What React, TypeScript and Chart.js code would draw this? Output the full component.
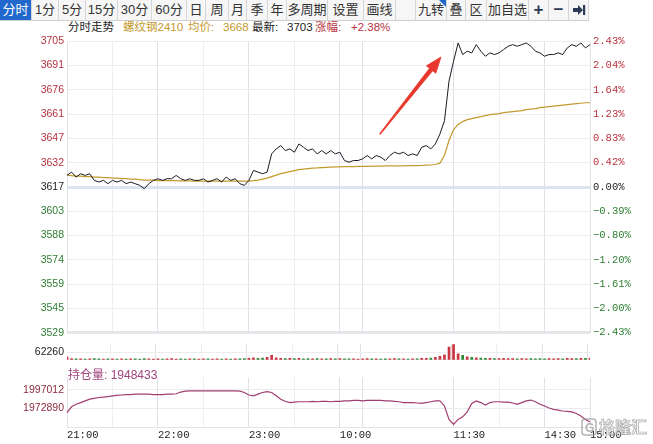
import React, { useEffect, useRef } from 'react';
import { Chart, registerables } from 'chart.js';

Chart.register(...registerables);

// ---------- time axis ----------
const SESSIONS: [string, string][] = [
  ['21:00', '23:00'],
  ['09:00', '10:15'],
  ['10:30', '11:30'],
  ['13:30', '15:00'],
];
const STEP_MIN = 3;
function buildTimeLabels(): string[] {
  const toMin = (s: string) => {
    const [h, m] = s.split(':').map(Number);
    return h * 60 + m;
  };
  const fmt = (t: number) =>
    `${String(Math.floor(t / 60) % 24).padStart(2, '0')}:${String(t % 60).padStart(2, '0')}`;
  const out = [SESSIONS[0][0]];
  for (const [a, b] of SESSIONS) {
    for (let t = toMin(a) + STEP_MIN; t <= toMin(b); t += STEP_MIN) out.push(fmt(t));
  }
  return out;
}
const TIME_LABELS = buildTimeLabels();
const SHOWN_TIME_LABELS = ['21:00', '22:00', '23:00', '10:00', '11:30', '14:30', '15:00'];
const SOLID_GRID_TIMES = ['21:00', '22:00', '23:00', '10:00', '10:15', '11:30', '14:30', '15:00'];
const DOTTED_GRID_TIMES = ['21:30', '22:30', '09:30', '14:00'];

// ---------- data ----------
const PRICE = [
  3624, 3626, 3623, 3625, 3624, 3625, 3621, 3620, 3621, 3619,
  3621, 3620, 3621, 3619, 3620, 3619, 3618, 3616, 3619, 3621,
  3622, 3621, 3622, 3622, 3624, 3622, 3621, 3622, 3621, 3621,
  3622, 3620, 3621, 3622, 3620, 3623, 3621, 3622, 3619, 3618,
  3621, 3627, 3626, 3625, 3626, 3637, 3640, 3642, 3639, 3640,
  3638, 3643, 3641, 3639, 3640, 3637, 3639, 3637, 3639, 3637,
  3638, 3633, 3632, 3633, 3633, 3634, 3636, 3634, 3636, 3635,
  3633, 3636, 3638, 3637, 3638, 3636, 3637, 3636, 3641, 3642,
  3640, 3643, 3649, 3657, 3681, 3693, 3704, 3697, 3699, 3698,
  3703, 3699, 3696, 3698, 3697, 3698, 3700, 3702, 3703, 3702,
  3703, 3704, 3702, 3699, 3698, 3696, 3697, 3697, 3698, 3697,
  3701, 3703, 3702, 3704, 3701, 3703,
];

const AVG_PRICE = [
  3624.2, 3623.9, 3623.6, 3623.6, 3623.3, 3623.3, 3623.0, 3623.0, 3622.7, 3622.7,
  3622.4, 3622.4, 3622.1, 3622.1, 3621.8, 3621.8, 3621.5, 3621.2, 3621.2, 3621.2,
  3620.9, 3620.9, 3620.9, 3620.8, 3620.8, 3620.7, 3620.7, 3620.7, 3620.6, 3620.6,
  3620.6, 3620.6, 3620.6, 3620.6, 3620.6, 3620.6, 3620.6, 3620.6, 3620.6, 3620.6,
  3620.6, 3620.8, 3621.2, 3621.8, 3622.4, 3623.3, 3624.2, 3625.1, 3625.7, 3626.3,
  3626.9, 3627.5, 3627.8, 3628.1, 3628.4, 3628.5, 3628.7, 3628.9, 3629.0, 3629.1,
  3629.2, 3629.3, 3629.3, 3629.3, 3629.4, 3629.4, 3629.4, 3629.6, 3629.6, 3629.6,
  3629.7, 3629.7, 3629.7, 3629.8, 3629.8, 3629.9, 3629.9, 3629.9, 3630.0, 3630.2,
  3630.3, 3630.6, 3631.4, 3636.2, 3645.1, 3651.7, 3654.7, 3656.5, 3657.7, 3658.3,
  3658.9, 3659.5, 3660.1, 3660.7, 3661.0, 3661.3, 3661.9, 3662.2, 3662.5, 3662.8,
  3663.1, 3663.7, 3664.0, 3664.3, 3664.9, 3665.2, 3665.5, 3665.8, 3666.1, 3666.4,
  3666.7, 3667.0, 3667.3, 3667.6, 3667.9, 3667.9,
];

const VOLUME = [
  23346, 9728, 7782, 7782, 5837, 7782, 9728, 7782, 5837, 7782,
  7782, 5837, 7782, 5837, 7782, 7782, 5837, 9728, 7782, 5837,
  7782, 5837, 7782, 9728, 5837, 7782, 5837, 7782, 7782, 5837,
  7782, 7782, 5837, 7782, 5837, 7782, 5837, 7782, 7782, 9728,
  11673, 15564, 11673, 13619, 19455, 35019, 15564, 11673, 9728, 11673,
  9728, 11673, 7782, 9728, 7782, 9728, 7782, 7782, 9728, 7782,
  9728, 7782, 7782, 7782, 5837, 7782, 9728, 7782, 7782, 5837,
  7782, 7782, 9728, 7782, 7782, 5837, 7782, 7782, 11673, 11673,
  13619, 19455, 27237, 38910, 101166, 124512, 46692, 35019, 23346, 19455,
  15564, 13619, 11673, 11673, 9728, 9728, 11673, 9728, 9728, 7782,
  9728, 7782, 9728, 7782, 9728, 7782, 9728, 7782, 9728, 7782,
  11673, 9728, 9728, 11673, 11673, 13619,
];

const OPEN_INTEREST = [
  1967408, 1975083, 1978372, 1980565, 1982758, 1984951, 1986047, 1987144, 1987692, 1988240,
  1989337, 1989885, 1990433, 1990981, 1990981, 1991530, 1991530, 1991530, 1991530, 1990981,
  1990981, 1990981, 1991530, 1991530, 1992078, 1994271, 1995368, 1995916, 1995916, 1995916,
  1995916, 1995916, 1995916, 1995916, 1995916, 1995916, 1995916, 1995916, 1995368, 1993723,
  1990433, 1989337, 1991530, 1993723, 1994819, 1993723, 1989337, 1984951, 1982210, 1980565,
  1981113, 1981662, 1981662, 1981662, 1982210, 1981662, 1982210, 1982210, 1981662, 1982210,
  1982210, 1982758, 1982758, 1983306, 1983306, 1982758, 1983306, 1983306, 1983306, 1983306,
  1982758, 1982758, 1982210, 1981662, 1980565, 1980565, 1980565, 1980017, 1979469, 1980565,
  1981662, 1982758, 1982758, 1976179, 1958636, 1952057, 1958636, 1961926, 1968504, 1979469,
  1982758, 1980565, 1977276, 1980565, 1981662, 1981662, 1981113, 1981113, 1980017, 1978372,
  1980565, 1982758, 1983855, 1981662, 1978372, 1976179, 1973438, 1971794, 1970697, 1969601,
  1969053, 1968504, 1966311, 1963022, 1958636, 1955347,
];

// ---------- axes ----------
const PREV_CLOSE = 3617;
const PRICE_MAX = 3705;
const PRICE_MIN = 3529;
const PRICE_TICK_LABELS = ['3705', '3691', '3676', '3661', '3647', '3632', '3617', '3603', '3588', '3574', '3559', '3545', '3529'];
const PCT_TICK_LABELS = ['2.43%', '2.04%', '1.64%', '1.23%', '0.83%', '0.42%', '0.00%', '−0.39%', '−0.80%', '−1.20%', '−1.61%', '−2.00%', '−2.43%'];
const VOL_TICK = 62260;
const VOL_MAX = 124520;
const OI_TICKS = [1972890, 1997012];
const OI_MIN = 1948768;
const OI_MAX = 2013459;

// ---------- styles ----------
const RED = '#b8323e';
const GREEN = '#2e7d32';
const GOLD = '#c49a2e';
const LEFT_W = 67;
const RIGHT_W = 63;
const SANS = '"Liberation Sans", Arial, sans-serif';
const MONO = '"Liberation Mono", "DejaVu Sans Mono", monospace';
const CJK = 'Arial, "Liberation Sans", "Noto Sans CJK SC", sans-serif';

const xGridColor = (ctx: any) => {
  const lbl = TIME_LABELS[ctx.index];
  if (SOLID_GRID_TIMES.includes(lbl)) return '#e0e0e6';
  if (DOTTED_GRID_TIMES.includes(lbl)) return '#eeeef2';
  return 'rgba(0,0,0,0)';
};

const hiddenX = () => ({
  type: 'category' as const,
  offset: false,
  ticks: { display: false, autoSkip: false },
  grid: { drawTicks: false, color: xGridColor, lineWidth: 1 },
  border: { display: false },
  afterFit: (s: any) => {
    s.height = 0;
  },
});

const evenTicks = (min: number, max: number, n: number) => (s: any) => {
  s.ticks = Array.from({ length: n }, (_, i) => ({ value: min + (i * (max - min)) / (n - 1) }));
};
const near = (a: number, b: number) => Math.abs(a - b) < 0.01;
const signColor = (ctx: any) => {
  const v = ctx.tick ? ctx.tick.value : PREV_CLOSE;
  if (near(v, PREV_CLOSE)) return '#222';
  return v > PREV_CLOSE ? RED : GREEN;
};

function priceConfig(): any {
  const n = PRICE_TICK_LABELS.length;
  return {
    type: 'line',
    data: {
      labels: TIME_LABELS,
      datasets: [
        { data: PRICE, borderColor: '#1c1c24', borderWidth: 1, pointRadius: 0, tension: 0, yAxisID: 'y', order: 1 },
        { data: AVG_PRICE, borderColor: GOLD, borderWidth: 1.2, pointRadius: 0, tension: 0, yAxisID: 'y', order: 2 },
      ],
    },
    options: {
      responsive: false,
      animation: false,
      events: [],
      layout: { padding: { top: 8, bottom: 7, left: 0, right: 0 } },
      plugins: { legend: { display: false }, tooltip: { enabled: false } },
      scales: {
        x: hiddenX(),
        y: {
          position: 'left',
          min: PRICE_MIN,
          max: PRICE_MAX,
          afterBuildTicks: evenTicks(PRICE_MIN, PRICE_MAX, n),
          afterFit: (s: any) => {
            s.width = LEFT_W;
          },
          ticks: {
            callback: (_v: any, i: number) => PRICE_TICK_LABELS[n - 1 - i],
            color: signColor,
            font: { family: SANS, size: 10.5 },
            padding: 3,
          },
          grid: {
            drawTicks: false,
            color: (ctx: any) => {
              const v = ctx.tick ? ctx.tick.value : 0;
              if (near(v, PREV_CLOSE)) return '#dde4f0';
              if (near(v, PRICE_MIN)) return '#e6e6ea';
              return '#ececf0';
            },
            lineWidth: (ctx: any) => {
              const v = ctx.tick ? ctx.tick.value : 0;
              return near(v, PREV_CLOSE) || near(v, PRICE_MIN) ? 3 : 1;
            },
          },
          border: { display: false },
        },
        yr: {
          position: 'right',
          min: PRICE_MIN,
          max: PRICE_MAX,
          afterBuildTicks: evenTicks(PRICE_MIN, PRICE_MAX, n),
          afterFit: (s: any) => {
            s.width = RIGHT_W;
          },
          ticks: {
            callback: (_v: any, i: number) => PCT_TICK_LABELS[n - 1 - i],
            color: signColor,
            font: { family: MONO, size: 10.5 },
            padding: 3,
          },
          grid: { display: false, drawTicks: false },
          border: { display: false },
        },
      },
    },
  };
}

function volumeConfig(): any {
  const colors = VOLUME.map((_, i) => (i === 0 || PRICE[i] >= PRICE[i - 1] ? '#cc3440' : '#2f8a3a'));
  return {
    type: 'bar',
    data: {
      labels: TIME_LABELS,
      datasets: [{ data: VOLUME, backgroundColor: colors, barThickness: 2, borderWidth: 0 }],
    },
    options: {
      responsive: false,
      animation: false,
      events: [],
      layout: { padding: { top: 1, bottom: 1, left: 0, right: RIGHT_W } },
      plugins: { legend: { display: false }, tooltip: { enabled: false } },
      scales: {
        x: { ...hiddenX(), border: { display: true, color: '#e4e4e8' } },
        y: {
          position: 'left',
          min: 0,
          max: VOL_MAX,
          afterBuildTicks: (s: any) => {
            s.ticks = [{ value: VOL_TICK }];
          },
          afterFit: (s: any) => {
            s.width = LEFT_W;
          },
          ticks: { callback: () => String(VOL_TICK), color: '#222', font: { family: SANS, size: 10.5 }, padding: 3 },
          grid: { drawTicks: false, color: '#ececf0' },
          border: { display: false },
        },
      },
    },
  };
}

function oiConfig(): any {
  return {
    type: 'line',
    data: {
      labels: TIME_LABELS,
      datasets: [{ data: OPEN_INTEREST, borderColor: '#a03e70', borderWidth: 1.2, pointRadius: 0, tension: 0 }],
    },
    options: {
      responsive: false,
      animation: false,
      events: [],
      layout: { padding: { top: 0, bottom: 0, left: 0, right: RIGHT_W } },
      plugins: { legend: { display: false }, tooltip: { enabled: false } },
      scales: {
        x: {
          type: 'category',
          offset: false,
          ticks: {
            autoSkip: false,
            maxRotation: 0,
            minRotation: 0,
            align: 'start',
            padding: 2,
            color: '#222',
            font: { family: MONO, size: 10.5 },
            callback: (_v: any, i: number) => (SHOWN_TIME_LABELS.includes(TIME_LABELS[i]) ? TIME_LABELS[i] : ''),
          },
          grid: { drawTicks: false, color: xGridColor, lineWidth: 1 },
          border: { display: true, color: '#e4e4e8' },
          afterFit: (s: any) => {
            s.height = 17;
          },
        },
        y: {
          position: 'left',
          min: OI_MIN,
          max: OI_MAX,
          afterBuildTicks: (s: any) => {
            s.ticks = OI_TICKS.map((v) => ({ value: v }));
          },
          afterFit: (s: any) => {
            s.width = LEFT_W;
          },
          ticks: {
            callback: (v: any) => String(v),
            color: '#8e2c40',
            font: { family: SANS, size: 10.5 },
            padding: 3,
          },
          grid: { drawTicks: false, color: '#ececf0' },
          border: { display: false },
        },
      },
    },
  };
}

function ChartCanvas({ make, top, height }: { make: () => any; top: number; height: number }) {
  const ref = useRef<HTMLCanvasElement | null>(null);
  useEffect(() => {
    const chart = new Chart(ref.current as HTMLCanvasElement, make());
    return () => chart.destroy();
  }, []);
  return (
    <canvas
      ref={ref}
      width={653}
      height={height}
      style={{ position: 'absolute', left: 0, top, width: 653, height }}
    />
  );
}

const TOOLBAR_ITEMS: { t: string; w: number; active?: boolean; corner?: boolean; icon?: boolean }[] = [
  { t: '分时', w: 32, active: true },
  { t: '1分', w: 27 },
  { t: '5分', w: 27 },
  { t: '15分', w: 32 },
  { t: '30分', w: 34 },
  { t: '60分', w: 35 },
  { t: '日', w: 19 },
  { t: '周', w: 23 },
  { t: '月', w: 18 },
  { t: '季', w: 21 },
  { t: '年', w: 19 },
  { t: '多周期', w: 41 },
  { t: '设置', w: 36 },
  { t: '画线', w: 32 },
  { t: '', w: 20 },
  { t: '九转', w: 31, corner: true },
  { t: '叠', w: 19 },
  { t: '区', w: 21 },
  { t: '加自选', w: 42 },
  { t: '+', w: 20, icon: true },
  { t: '−', w: 20, icon: true },
  { t: 'END', w: 20, icon: true },
];

function Toolbar() {
  return (
    <div style={{ position: 'absolute', left: 0, top: 0, height: 21, display: 'flex' }}>
      {TOOLBAR_ITEMS.map((it, i) => (
        <div
          key={i}
          style={{
            position: 'relative',
            boxSizing: 'border-box',
            width: it.w,
            height: 21,
            lineHeight: '20px',
            textAlign: 'center',
            fontFamily: CJK,
            fontSize: it.icon ? 17 : 13,
            fontWeight: it.icon ? 700 : 400,
            color: it.active ? '#fff' : it.icon ? '#2c3a55' : '#333',
            background: it.active ? '#2168cc' : '#f6f6f6',
            borderRight: '1px solid #d6d6d6',
            borderBottom: '1px solid #cfcfcf',
          }}
        >
          {it.t === 'END' ? (
            <svg width="14" height="12" viewBox="0 0 14 12" style={{ marginTop: 4 }}>
              <polygon points="1,4 6,4 6,1 11,6 6,11 6,8 1,8" fill="#2c3a55" />
              <rect x="11" y="1" width="2.2" height="10" fill="#2c3a55" />
            </svg>
          ) : (
            it.t
          )}
          {it.corner && (
            <div
              style={{
                position: 'absolute',
                right: 0,
                top: 0,
                width: 0,
                height: 0,
                borderTop: '7px solid #2168cc',
                borderLeft: '7px solid transparent',
              }}
            />
          )}
        </div>
      ))}
    </div>
  );
}

const headerText = (t: string, left: number, color: string) => (
  <span
    style={{
      position: 'absolute',
      left,
      top: 19,
      fontFamily: CJK,
      fontSize: 11.5,
      lineHeight: '16px',
      color,
      whiteSpace: 'nowrap',
    }}
  >
    {t}
  </span>
);

export default function App() {
  return (
    <div
      style={{
        position: 'fixed',
        left: 0,
        top: 0,
        width: 653,
        height: 444,
        background: '#fff',
        overflow: 'hidden',
      }}
    >
      <Toolbar />
      {headerText('分时走势', 68, '#222')}
      {headerText('螺纹钢2410', 123, GOLD)}
      {headerText('均价:', 188, GOLD)}
      {headerText('3668', 223, GOLD)}
      {headerText('最新:', 252, '#222')}
      {headerText('3703', 287, '#222')}
      {headerText('涨幅:', 315, RED)}
      {headerText('+2.38%', 351, RED)}
      <ChartCanvas make={priceConfig} top={32} height={310} />
      <ChartCanvas make={volumeConfig} top={335} height={34} />
      <ChartCanvas make={oiConfig} top={368} height={76} />
      <span
        style={{
          position: 'absolute',
          left: 68,
          top: 367,
          fontFamily: CJK,
          fontSize: 12,
          lineHeight: '16px',
          color: '#a0447e',
          whiteSpace: 'nowrap',
        }}
      >
        持仓量: 1948433
      </span>
      <svg
        width={653}
        height={444}
        style={{ position: 'absolute', left: 0, top: 0, pointerEvents: 'none' }}
      >
        <polygon
          points="380.4,134.3 432.7,70.7 435.8,73.2 441,57 426.4,65.8 429.5,68.3 379.6,133.7"
          fill="#e8372c"
          stroke="#e8372c"
          strokeWidth={0.8}
          strokeLinejoin="round"
        />
        <g opacity={0.75}>
          <rect x={582} y={419} width={14} height={16} rx={3} fill="none" stroke="#9a9a9a" strokeWidth={1.5} />
          <text x={585} y={432} fontFamily={SANS} fontSize={12} fontWeight={700} fill="#9a9a9a">
            G
          </text>
          <text
            x={599}
            y={433}
            fontFamily={CJK}
            fontSize={16}
            fontWeight={700}
            fill="#ffffff"
            stroke="#9a9a9a"
            strokeWidth={0.9}
          >
            格隆汇
          </text>
        </g>
      </svg>
    </div>
  );
}
